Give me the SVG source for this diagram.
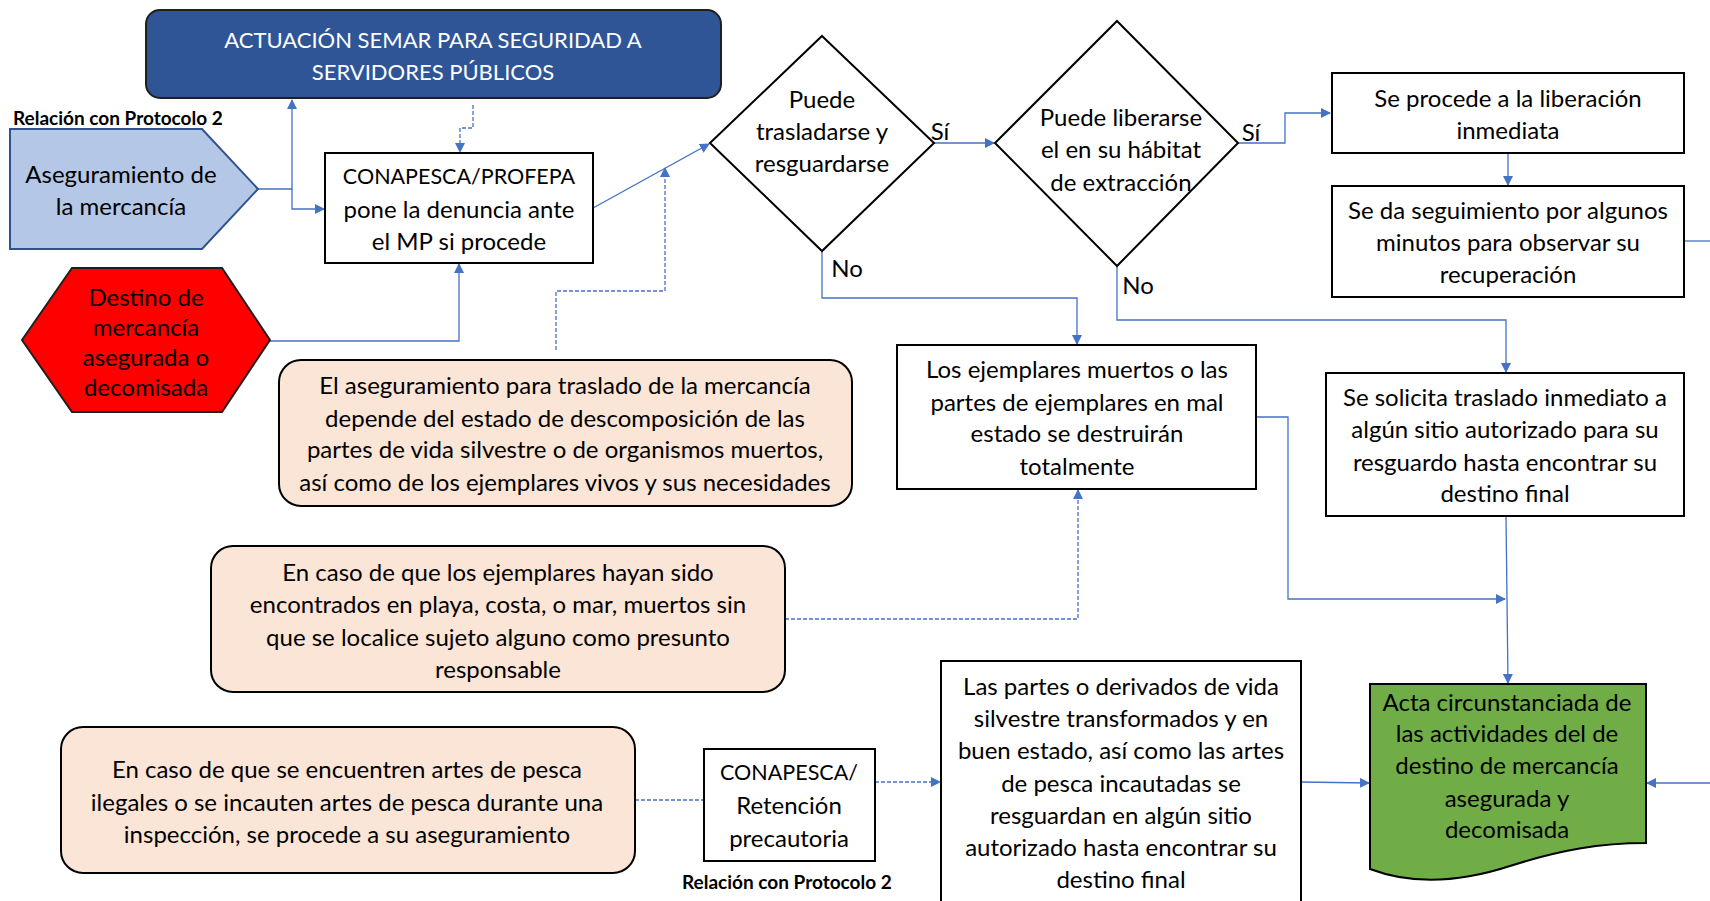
<svg xmlns="http://www.w3.org/2000/svg" width="1710" height="901" viewBox="0 0 1710 901">
<defs>
<marker id="ah" viewBox="0 0 10 10" refX="9" refY="5" markerWidth="10" markerHeight="10" markerUnits="userSpaceOnUse" orient="auto"><path d="M0,0 L10,5 L0,10 z" fill="#4472C4"/></marker>
<style>
text{font-family:Lato,"Liberation Sans",sans-serif;font-size:24px;fill:#000;text-anchor:middle;dominant-baseline:central}
.w{fill:#fff;font-size:22px}
.u{font-size:21.5px}
.b{font-weight:bold;font-size:19px;text-anchor:start}
.bx{fill:#fff;stroke:#000;stroke-width:2}
.pe{fill:#FBE5D6;stroke:#000;stroke-width:2}
.c{fill:none;stroke:#4472C4;stroke-width:1.3}
.d{fill:none;stroke:#4472C4;stroke-width:1.3;stroke-dasharray:4,2}
</style>
</defs>
<rect width="1710" height="901" fill="#fff"/>

<g id="connectors">
<polyline class="c" points="258,189 292,189 292,100" marker-end="url(#ah)"/>
<polyline class="c" points="292,189 292,209 324,209" marker-end="url(#ah)"/>
<polyline class="d" points="473,105 473,128 460,128 460,152" marker-end="url(#ah)"/>
<polyline class="c" points="270,341 459,341 459,264" marker-end="url(#ah)"/>
<line class="c" x1="593" y1="208" x2="709" y2="144" marker-end="url(#ah)"/>
<polyline class="d" points="556,350 556,291 665,291 665,168" marker-end="url(#ah)"/>
<line class="c" x1="934" y1="143" x2="994" y2="143" marker-end="url(#ah)"/>
<polyline class="c" points="1238,143 1285,143 1285,113 1330,113" marker-end="url(#ah)"/>
<line class="c" x1="1508" y1="153" x2="1508" y2="185" marker-end="url(#ah)"/>
<line class="c" x1="1685" y1="241" x2="1710" y2="241"/>
<polyline class="c" points="822,251 822,298 1077,298 1077,344" marker-end="url(#ah)"/>
<polyline class="c" points="1117,266 1117,320 1506,320 1506,372" marker-end="url(#ah)"/>
<polyline class="c" points="1256,417 1288,417 1288,599 1505,599" marker-end="url(#ah)"/>
<line class="c" x1="1506" y1="516" x2="1508" y2="683" marker-end="url(#ah)"/>
<polyline class="d" points="785,619 1078,619 1078,490" marker-end="url(#ah)"/>
<line class="d" x1="635" y1="800" x2="703" y2="800"/>
<line class="d" x1="875" y1="782" x2="940" y2="782" marker-end="url(#ah)"/>
<line class="c" x1="1301" y1="782" x2="1369" y2="783" marker-end="url(#ah)"/>
<line class="c" x1="1710" y1="783" x2="1647" y2="783" marker-end="url(#ah)"/>
</g>

<g id="title">
<rect x="146" y="10" width="575" height="88" rx="14" fill="#2F5597" stroke="#1F1F1F" stroke-width="2"/>
<text class="w" x="433" y="39">ACTUACIÓN SEMAR PARA SEGURIDAD A</text>
<text class="w" x="433" y="71">SERVIDORES PÚBLICOS</text>
</g>

<g id="rel1"><text class="b" x="13" y="117">Relación con Protocolo 2</text></g>

<g id="aseguramiento">
<polygon points="10,129 202,129 258,189 202,249 10,249" fill="#B4C7E7" stroke="#2F528F" stroke-width="2"/>
<text x="121" y="173">Aseguramiento de</text>
<text x="121" y="205">la mercancía</text>
</g>

<g id="conapesca">
<rect class="bx" x="325" y="153" width="268" height="110"/>
<text class="u" x="459" y="176">CONAPESCA/PROFEPA</text>
<text x="459" y="208">pone la denuncia ante</text>
<text x="459" y="240">el MP si procede</text>
</g>

<g id="destino">
<polygon points="22,340 72,268 222,268 270,340 222,412 72,412" fill="#FF0000" stroke="#1F1F1F" stroke-width="2"/>
<text x="146" y="296">Destino de</text>
<text x="146" y="326">mercancía</text>
<text x="146" y="356">asegurada o</text>
<text x="146" y="386">decomisada</text>
</g>

<g id="d1">
<polygon class="bx" points="822,36 934,143 822,251 710,143"/>
<text x="822" y="98">Puede</text>
<text x="822" y="130">trasladarse y</text>
<text x="822" y="162">resguardarse</text>
</g>

<g id="d2">
<polygon class="bx" points="1117,21 1238,143 1117,266 995,143"/>
<text x="1121" y="116">Puede liberarse</text>
<text x="1121" y="148">el en su hábitat</text>
<text x="1121" y="181">de extracción</text>
</g>

<g id="labels">
<text x="940" y="130">Sí</text>
<text x="1251" y="131">Sí</text>
<text x="847" y="267">No</text>
<text x="1138" y="284">No</text>
</g>

<g id="liberacion">
<rect class="bx" x="1332" y="73" width="352" height="80"/>
<text x="1508" y="97">Se procede a la liberación</text>
<text x="1508" y="129">inmediata</text>
</g>

<g id="seguimiento">
<rect class="bx" x="1332" y="186" width="352" height="111"/>
<text x="1508" y="209">Se da seguimiento por algunos</text>
<text x="1508" y="241">minutos para observar su</text>
<text x="1508" y="273">recuperación</text>
</g>

<g id="muertos">
<rect class="bx" x="897" y="345" width="359" height="144"/>
<text x="1077" y="368">Los ejemplares muertos o las</text>
<text x="1077" y="401">partes de ejemplares en mal</text>
<text x="1077" y="432">estado se destruirán</text>
<text x="1077" y="465">totalmente</text>
</g>

<g id="traslado">
<rect class="bx" x="1326" y="373" width="358" height="143"/>
<text x="1505" y="396">Se solicita traslado inmediato a</text>
<text x="1505" y="428">algún sitio autorizado para su</text>
<text x="1505" y="461">resguardo hasta encontrar su</text>
<text x="1505" y="492">destino final</text>
</g>

<g id="nota1">
<rect class="pe" x="279" y="360" width="573" height="146" rx="22"/>
<text x="565" y="384">El aseguramiento para traslado de la mercancía</text>
<text x="565" y="417">depende del estado de descomposición de las</text>
<text x="565" y="448">partes de vida silvestre o de organismos muertos,</text>
<text x="565" y="481">así como de los ejemplares vivos y sus necesidades</text>
</g>

<g id="nota2">
<rect class="pe" x="211" y="546" width="574" height="146" rx="22"/>
<text x="498" y="571">En caso de que los ejemplares hayan sido</text>
<text x="498" y="603">encontrados en playa, costa, o mar, muertos sin</text>
<text x="498" y="636">que se localice sujeto alguno como presunto</text>
<text x="498" y="668">responsable</text>
</g>

<g id="nota3">
<rect class="pe" x="61" y="727" width="574" height="146" rx="22"/>
<text x="347" y="768">En caso de que se encuentren artes de pesca</text>
<text x="347" y="801">ilegales o se incauten artes de pesca durante una</text>
<text x="347" y="833">inspección, se procede a su aseguramiento</text>
</g>

<g id="retencion">
<rect class="bx" x="704" y="749" width="171" height="112"/>
<text class="u" x="789" y="772">CONAPESCA/</text>
<text x="789" y="804">Retención</text>
<text x="789" y="837">precautoria</text>
</g>

<g id="rel2"><text class="b" x="682" y="881">Relación con Protocolo 2</text></g>

<g id="partes">
<rect class="bx" x="941" y="661" width="360" height="260"/>
<text x="1121" y="685">Las partes o derivados de vida</text>
<text x="1121" y="717">silvestre transformados y en</text>
<text x="1121" y="749">buen estado, así como las artes</text>
<text x="1121" y="782">de pesca incautadas se</text>
<text x="1121" y="814">resguardan en algún sitio</text>
<text x="1121" y="846">autorizado hasta encontrar su</text>
<text x="1121" y="878">destino final</text>
</g>

<g id="acta">
<path d="M1370,684 L1646,684 L1646,843 C1600,843 1560,850 1510,866 C1470,879 1420,888 1370,869 Z" fill="#70AD47" stroke="#000" stroke-width="2"/>
<text x="1507" y="701">Acta circunstanciada de</text>
<text x="1507" y="732">las actividades del de</text>
<text x="1507" y="764">destino de mercancía</text>
<text x="1507" y="797">asegurada y</text>
<text x="1507" y="828">decomisada</text>
</g>
</svg>
